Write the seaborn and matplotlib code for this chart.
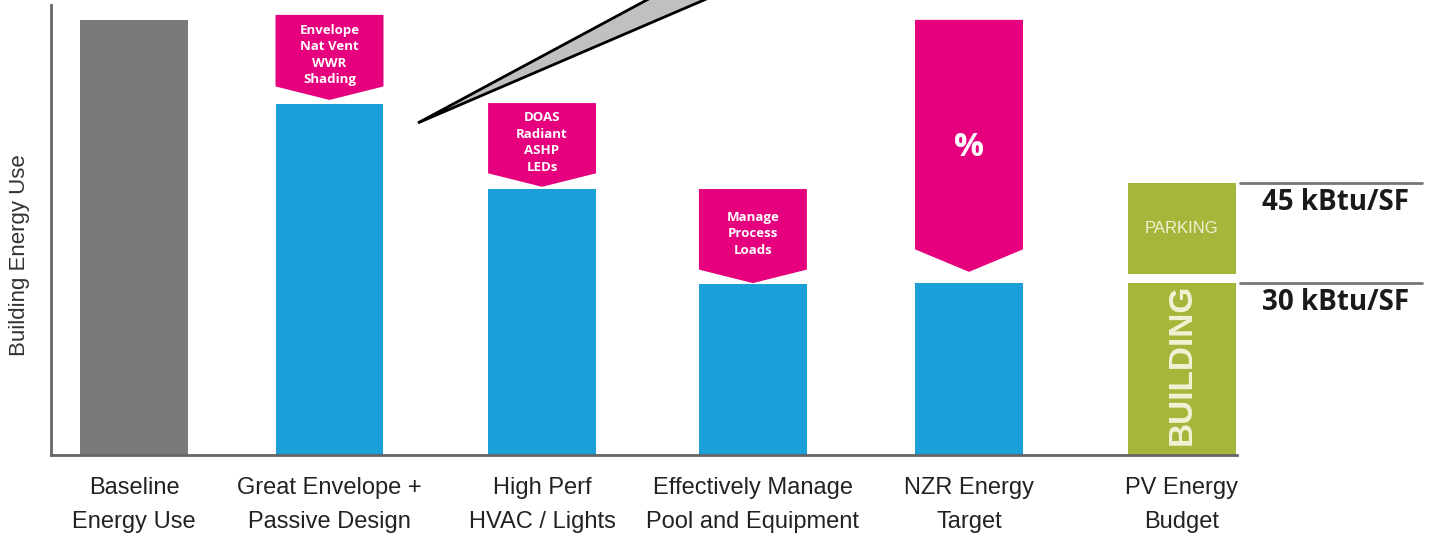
import matplotlib
matplotlib.use("Agg")
import matplotlib.pyplot as plt
import seaborn as sns
import pandas as pd
import numpy as np

# ---- data ----
categories = ["Baseline\nEnergy Use", "Great Envelope +\nPassive Design", "High Perf\nHVAC / Lights",
              "Effectively Manage\nPool and Equipment", "NZR Energy\nTarget", "PV Energy\nBudget"]
energy_use = [96.7, 78.0, 59.1, 38.0, 38.2, 38.2]          # main bar heights (building)
parking_bottom = 40.2
parking_top = 60.4
# reduction arrows: (category index, top value, tip value, label)
arrow_idx = [1, 2, 3, 4]
arrow_top = [97.8, 78.2, 59.1, 96.7]
arrow_tip = [78.9, 59.6, 38.2, 40.7]
arrow_text = ["Envelope\nNat Vent\nWWR\nShading", "DOAS\nRadiant\nASHP\nLEDs", "Manage\nProcess\nLoads", "%"]
target_levels = [60.4, 38.2]
target_labels = ["45 kBtu/SF", "30 kBtu/SF"]

# ---- layout / style ----
x_pos = [0.0, 0.933, 1.947, 2.953, 3.984, 5.0]
arrow_depth = [3.0, 3.0, 3.0, 5.0]
bar_colors = ["#7a7a7a", "#1b9fd9", "#1b9fd9", "#1b9fd9", "#1b9fd9", "#a6b63b"]
MAGENTA = "#e6007e"
GREEN = "#a6b63b"
CREAM = "#f4f0d4"

sns.set_style("white")
narrow = ["Liberation Sans Narrow", "Liberation Sans", "DejaVu Sans"]
opensans = ["Open Sans", "DejaVu Sans"]

fig = plt.figure(figsize=(14.31, 5.49), dpi=100)
ax = fig.add_axes([0.0356, 0.1712, 0.9644, 0.8197])

bar_w = 0.515
df = pd.DataFrame({"pos": x_pos, "cat": categories, "val": energy_use})
native_unit = np.min(np.diff(sorted(x_pos)))
sns.barplot(data=df, x="pos", y="val", hue="cat", palette=bar_colors, width=bar_w / native_unit,
            native_scale=True, dodge=False, legend=False, ax=ax, saturation=1, edgecolor="none")

# parking segment on PV bar
pv = len(categories) - 1
ax.bar(x_pos[pv], parking_top - parking_bottom, bottom=parking_bottom, width=bar_w,
       color=GREEN, edgecolor="none")

# arrows
for i, top, tip, dep, txt in zip(arrow_idx, arrow_top, arrow_tip, arrow_depth, arrow_text):
    c = x_pos[i]
    l, r = c - bar_w / 2, c + bar_w / 2
    xs = [l, r, r, c, l]
    ys = [top, top, tip + dep, tip, tip + dep]
    ax.fill(xs, ys, color=MAGENTA, zorder=3, lw=0)
    if txt == "%":
        ax.text(c, 68.3, txt, ha="center", va="center", color="white", fontsize=24,
                fontweight="bold", family=opensans, zorder=4)
    else:
        ax.text(c, (top + tip + dep) / 2 - 1.0, txt, ha="center", va="center", color="white",
                fontsize=9.5, fontweight="bold", family=opensans,
                linespacing=1.35, zorder=4)

# PV labels
ax.text(x_pos[pv], (parking_bottom + parking_top) / 2, "PARKING", ha="center", va="center",
        color=CREAM, fontsize=12, family=narrow, zorder=4)
ax.text(x_pos[pv], energy_use[pv] / 2 + 1, "BUILDING", ha="center", va="center", rotation=90,
        color=CREAM, fontsize=24, fontweight="bold", family=narrow, zorder=4)

# target lines + labels
for lvl, lab in zip(target_levels, target_labels):
    ax.plot([5.277, 6.145], [lvl, lvl], color="#777777", lw=2, clip_on=False)
    ax.text(5.38, lvl - 1.1, lab, ha="left", va="top", fontsize=20, fontweight="bold",
            family=opensans, color="#1a1a1a")

# callout wedge
ax.fill([1.355, 2.462, 2.739], [73.8, 101.5, 101.5], facecolor="#c0c0c0", edgecolor="black",
        lw=2, clip_on=False, zorder=5)

ax.set_xlim(-0.396, 6.188)
ax.set_ylim(0, 100)
ax.set_yticks([])
ax.set_xticks(x_pos, labels=categories)
ax.set_xlabel("")
ax.set_ylabel("Building Energy Use", fontsize=16, family=narrow, color="#333333")
ax.yaxis.set_label_coords(-0.0155, 0.444)
ax.tick_params(axis="x", length=0, pad=16)
for lab in ax.get_xticklabels():
    lab.set_fontsize(17)
    lab.set_family(narrow)
    lab.set_color("#222222")
    lab.set_linespacing(1.7)

for s in ["top", "right"]:
    ax.spines[s].set_visible(False)
for s in ["left", "bottom"]:
    ax.spines[s].set_color("#666666")
    ax.spines[s].set_linewidth(2)
ax.spines["bottom"].set_bounds(-0.396, 5.262)

fig.savefig("out.png", dpi=100)
